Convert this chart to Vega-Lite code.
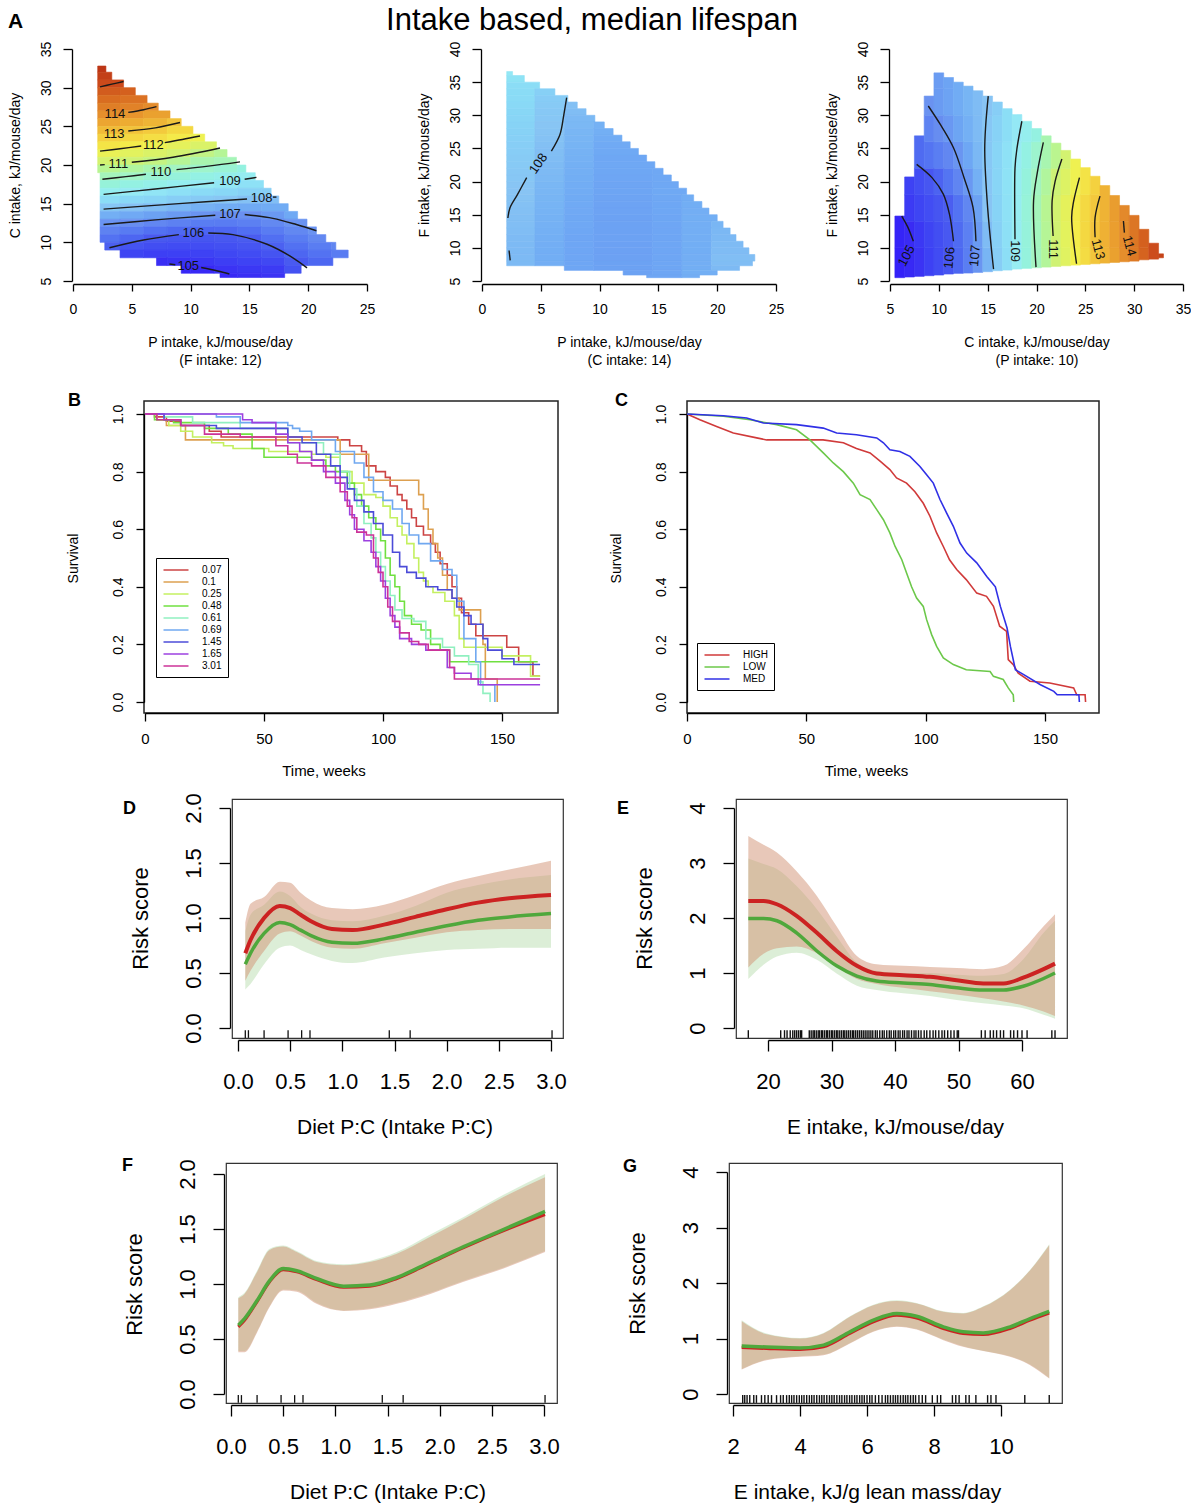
{
"$schema":"https://vega.github.io/schema/vega-lite/v6.json",
"background":"white",
"padding":{"top":4,"left":0,"right":0,"bottom":0},
"autosize":{"type":"pad"},
"spacing":0,
"bounds":"full",
"resolve":{"scale":{"stroke":"independent"},"legend":{"stroke":"independent"}},
"config":{"font":"Liberation Sans","view":{"stroke":null},"axis":{"grid":false,"labelFlush":false,"labelOverlap":false,"domainColor":"#000","tickColor":"#000","labelColor":"#000","titleColor":"#000","titleFontWeight":"normal","domainWidth":1.3,"tickWidth":1.3},"title":{"color":"#000"},"legend":{"labelColor":"#000"}},
"datasets":{
"a1":[
{"x":2.1,"x2":2.8,"y":32,"y2":32.8,"v":115.55},
{"x":2.1,"x2":3.3,"y":31,"y2":32,"v":115.31},
{"x":2.1,"x2":4.3,"y":30,"y2":31,"v":115.04},
{"x":2.1,"x2":4,"y":29,"y2":30,"v":114.77},{"x":4,"x2":5.3,"y":29,"y2":30,"v":114.7},
{"x":2.1,"x2":4,"y":28,"y2":29,"v":114.5},{"x":4,"x2":6.3,"y":28,"y2":29,"v":114.42},
{"x":2.1,"x2":4,"y":27,"y2":28,"v":114.23},{"x":4,"x2":6,"y":27,"y2":28,"v":114.16},{"x":6,"x2":7.25,"y":27,"y2":28,"v":114.0},
{"x":2.1,"x2":4,"y":26,"y2":27,"v":113.94},{"x":4,"x2":6,"y":26,"y2":27,"v":113.84},{"x":6,"x2":8.25,"y":26,"y2":27,"v":113.63},
{"x":2.1,"x2":4,"y":25,"y2":26,"v":113.55},{"x":4,"x2":6,"y":25,"y2":26,"v":113.43},{"x":6,"x2":8,"y":25,"y2":26,"v":113.26},{"x":8,"x2":9.2,"y":25,"y2":26,"v":113.0},
{"x":2.1,"x2":4,"y":24,"y2":25,"v":113.16},{"x":4,"x2":6,"y":24,"y2":25,"v":113.02},{"x":6,"x2":8,"y":24,"y2":25,"v":112.86},{"x":8,"x2":10.2,"y":24,"y2":25,"v":112.55},
{"x":2.1,"x2":4,"y":23,"y2":24,"v":112.72},{"x":4,"x2":6,"y":23,"y2":24,"v":112.56},{"x":6,"x2":8,"y":23,"y2":24,"v":112.4},{"x":8,"x2":10,"y":23,"y2":24,"v":112.13},{"x":10,"x2":11.2,"y":23,"y2":24,"v":111.86},
{"x":2.1,"x2":4,"y":22,"y2":23,"v":112.26},{"x":4,"x2":6,"y":22,"y2":23,"v":112.09},{"x":6,"x2":8,"y":22,"y2":23,"v":111.9},{"x":8,"x2":10,"y":22,"y2":23,"v":111.67},{"x":10,"x2":12.2,"y":22,"y2":23,"v":111.38},
{"x":2.1,"x2":4,"y":21,"y2":22,"v":111.77},{"x":4,"x2":6,"y":21,"y2":22,"v":111.59},{"x":6,"x2":8,"y":21,"y2":22,"v":111.4},{"x":8,"x2":10,"y":21,"y2":22,"v":111.2},{"x":10,"x2":12,"y":21,"y2":22,"v":110.86},{"x":12,"x2":13.1,"y":21,"y2":22,"v":110.63},
{"x":2.1,"x2":4,"y":20,"y2":21,"v":111.22},{"x":4,"x2":6,"y":20,"y2":21,"v":111.08},{"x":6,"x2":8,"y":20,"y2":21,"v":110.88},{"x":8,"x2":10,"y":20,"y2":21,"v":110.65},{"x":10,"x2":12,"y":20,"y2":21,"v":110.33},{"x":12,"x2":13.9,"y":20,"y2":21,"v":110.18},
{"x":2.1,"x2":4,"y":19,"y2":20,"v":110.68},{"x":4,"x2":6,"y":19,"y2":20,"v":110.52},{"x":6,"x2":8,"y":19,"y2":20,"v":110.29},{"x":8,"x2":10,"y":19,"y2":20,"v":110.04},{"x":10,"x2":12,"y":19,"y2":20,"v":109.88},{"x":12,"x2":14,"y":19,"y2":20,"v":109.73},{"x":14,"x2":14.7,"y":19,"y2":20,"v":109.5},
{"x":2.3,"x2":4,"y":18,"y2":19,"v":110.14},{"x":4,"x2":6,"y":18,"y2":19,"v":109.96},{"x":6,"x2":8,"y":18,"y2":19,"v":109.76},{"x":8,"x2":10,"y":18,"y2":19,"v":109.58},{"x":10,"x2":12,"y":18,"y2":19,"v":109.41},{"x":12,"x2":14,"y":18,"y2":19,"v":109.28},{"x":14,"x2":15.5,"y":18,"y2":19,"v":109.1},
{"x":2.3,"x2":4,"y":17,"y2":18,"v":109.62},{"x":4,"x2":6,"y":17,"y2":18,"v":109.45},{"x":6,"x2":8,"y":17,"y2":18,"v":109.29},{"x":8,"x2":10,"y":17,"y2":18,"v":109.13},{"x":10,"x2":12,"y":17,"y2":18,"v":108.98},{"x":12,"x2":14,"y":17,"y2":18,"v":108.85},{"x":14,"x2":16.2,"y":17,"y2":18,"v":108.71},
{"x":2.3,"x2":4,"y":16,"y2":17,"v":109.12},{"x":4,"x2":6,"y":16,"y2":17,"v":108.95},{"x":6,"x2":8,"y":16,"y2":17,"v":108.81},{"x":8,"x2":10,"y":16,"y2":17,"v":108.68},{"x":10,"x2":12,"y":16,"y2":17,"v":108.56},{"x":12,"x2":14,"y":16,"y2":17,"v":108.44},{"x":14,"x2":16,"y":16,"y2":17,"v":108.33},{"x":16,"x2":16.85,"y":16,"y2":17,"v":108.25},
{"x":2.3,"x2":4,"y":15,"y2":16,"v":108.6},{"x":4,"x2":6,"y":15,"y2":16,"v":108.47},{"x":6,"x2":8,"y":15,"y2":16,"v":108.4},{"x":8,"x2":10,"y":15,"y2":16,"v":108.23},{"x":10,"x2":12,"y":15,"y2":16,"v":108.13},{"x":12,"x2":14,"y":15,"y2":16,"v":108.04},{"x":14,"x2":16,"y":15,"y2":16,"v":107.94},{"x":16,"x2":17.5,"y":15,"y2":16,"v":107.88},
{"x":2.3,"x2":4,"y":14,"y2":15,"v":108.08},{"x":4,"x2":6,"y":14,"y2":15,"v":107.98},{"x":6,"x2":8,"y":14,"y2":15,"v":107.86},{"x":8,"x2":10,"y":14,"y2":15,"v":107.73},{"x":10,"x2":12,"y":14,"y2":15,"v":107.62},{"x":12,"x2":14,"y":14,"y2":15,"v":107.51},{"x":14,"x2":16,"y":14,"y2":15,"v":107.47},{"x":16,"x2":18.3,"y":14,"y2":15,"v":107.51},
{"x":2.3,"x2":4,"y":13,"y2":14,"v":107.57},{"x":4,"x2":6,"y":13,"y2":14,"v":107.46},{"x":6,"x2":8,"y":13,"y2":14,"v":107.32},{"x":8,"x2":10,"y":13,"y2":14,"v":107.17},{"x":10,"x2":12,"y":13,"y2":14,"v":107.07},{"x":12,"x2":14,"y":13,"y2":14,"v":106.98},{"x":14,"x2":16,"y":13,"y2":14,"v":106.99},{"x":16,"x2":18,"y":13,"y2":14,"v":107.15},{"x":18,"x2":19.1,"y":13,"y2":14,"v":107.45},
{"x":2.3,"x2":4,"y":12,"y2":13,"v":107.07},{"x":4,"x2":6,"y":12,"y2":13,"v":106.95},{"x":6,"x2":8,"y":12,"y2":13,"v":106.82},{"x":8,"x2":10,"y":12,"y2":13,"v":106.7},{"x":10,"x2":12,"y":12,"y2":13,"v":106.61},{"x":12,"x2":14,"y":12,"y2":13,"v":106.59},{"x":14,"x2":16,"y":12,"y2":13,"v":106.67},{"x":16,"x2":18,"y":12,"y2":13,"v":106.85},{"x":18,"x2":19.9,"y":12,"y2":13,"v":107.06},
{"x":2.3,"x2":4,"y":11,"y2":12,"v":106.72},{"x":4,"x2":6,"y":11,"y2":12,"v":106.57},{"x":6,"x2":8,"y":11,"y2":12,"v":106.38},{"x":8,"x2":10,"y":11,"y2":12,"v":106.23},{"x":10,"x2":12,"y":11,"y2":12,"v":106.15},{"x":12,"x2":14,"y":11,"y2":12,"v":106.19},{"x":14,"x2":16,"y":11,"y2":12,"v":106.35},{"x":16,"x2":18,"y":11,"y2":12,"v":106.6},{"x":18,"x2":20,"y":11,"y2":12,"v":106.83},{"x":20,"x2":20.7,"y":11,"y2":12,"v":107.05},
{"x":2.3,"x2":4,"y":10,"y2":11,"v":106.4},{"x":4,"x2":6,"y":10,"y2":11,"v":106.18},{"x":6,"x2":8,"y":10,"y2":11,"v":105.96},{"x":8,"x2":10,"y":10,"y2":11,"v":105.87},{"x":10,"x2":12,"y":10,"y2":11,"v":105.85},{"x":12,"x2":14,"y":10,"y2":11,"v":105.9},{"x":14,"x2":16,"y":10,"y2":11,"v":106.02},{"x":16,"x2":18,"y":10,"y2":11,"v":106.34},{"x":18,"x2":20,"y":10,"y2":11,"v":106.61},{"x":20,"x2":21.5,"y":10,"y2":11,"v":106.84},
{"x":2.7,"x2":4,"y":9,"y2":10,"v":106.07},{"x":4,"x2":6,"y":9,"y2":10,"v":105.8},{"x":6,"x2":8,"y":9,"y2":10,"v":105.65},{"x":8,"x2":10,"y":9,"y2":10,"v":105.61},{"x":10,"x2":12,"y":9,"y2":10,"v":105.63},{"x":12,"x2":14,"y":9,"y2":10,"v":105.7},{"x":14,"x2":16,"y":9,"y2":10,"v":105.82},{"x":16,"x2":18,"y":9,"y2":10,"v":106.09},{"x":18,"x2":20,"y":9,"y2":10,"v":106.39},{"x":20,"x2":22,"y":9,"y2":10,"v":106.62},{"x":22,"x2":22.35,"y":9,"y2":10,"v":106.8},
{"x":4,"x2":6,"y":8,"y2":9,"v":105.44},{"x":6,"x2":8,"y":8,"y2":9,"v":105.34},{"x":8,"x2":10,"y":8,"y2":9,"v":105.35},{"x":10,"x2":12,"y":8,"y2":9,"v":105.4},{"x":12,"x2":14,"y":8,"y2":9,"v":105.5},{"x":14,"x2":16,"y":8,"y2":9,"v":105.61},{"x":16,"x2":18,"y":8,"y2":9,"v":105.81},{"x":18,"x2":20,"y":8,"y2":9,"v":106.17},{"x":20,"x2":22,"y":8,"y2":9,"v":106.4},{"x":22,"x2":23.4,"y":8,"y2":9,"v":106.6},
{"x":7.1,"x2":8,"y":7,"y2":8,"v":105.03},{"x":8,"x2":10,"y":7,"y2":8,"v":105.09},{"x":10,"x2":12,"y":7,"y2":8,"v":105.18},{"x":12,"x2":14,"y":7,"y2":8,"v":105.31},{"x":14,"x2":16,"y":7,"y2":8,"v":105.41},{"x":16,"x2":18,"y":7,"y2":8,"v":105.53},{"x":18,"x2":20,"y":7,"y2":8,"v":105.95},{"x":20,"x2":22.1,"y":7,"y2":8,"v":106.19},
{"x":9.2,"x2":10,"y":6,"y2":7,"v":104.9},{"x":10,"x2":12,"y":6,"y2":7,"v":104.95},{"x":12,"x2":14,"y":6,"y2":7,"v":105.11},{"x":14,"x2":16,"y":6,"y2":7,"v":105.2},{"x":16,"x2":18,"y":6,"y2":7,"v":105.26},{"x":18,"x2":19.4,"y":6,"y2":7,"v":105.75},
{"x":12.5,"x2":14,"y":5.45,"y2":6,"v":104.95},{"x":14,"x2":16,"y":5.45,"y2":6,"v":105.04},{"x":16,"x2":18,"y":5.45,"y2":6,"v":105.12}
],
"a1c":[
{"k":"115","x":2.3,"y":30.1},{"k":"115","x":3.3,"y":30.45},{"k":"115","x":4.3,"y":30.8},
{"k":"114","x":4.7,"y":26.8},{"k":"114","x":6,"y":27.15},{"k":"114","x":7.1,"y":27.55},
{"k":"113","x":4.7,"y":24.4},{"k":"113","x":7,"y":24.8},{"k":"113","x":9.1,"y":25.5},
{"k":"112a","x":2.3,"y":21.8},{"k":"112a","x":4,"y":22.1},{"k":"112a","x":5.8,"y":22.45},
{"k":"112b","x":7.8,"y":22.9},{"k":"112b","x":9.3,"y":23.3},{"k":"112b","x":10.8,"y":23.75},
{"k":"111a","x":2.3,"y":20.0},{"k":"111a","x":2.7,"y":20.05},
{"k":"111b","x":5.0,"y":20.35},{"k":"111b","x":8.5,"y":21.0},{"k":"111b","x":12.5,"y":22.2},
{"k":"110a","x":2.5,"y":18.15},{"k":"110a","x":4.5,"y":18.5},{"k":"110a","x":6.2,"y":18.8},
{"k":"110b","x":8.8,"y":19.4},{"k":"110b","x":11.5,"y":19.85},{"k":"110b","x":14.2,"y":20.4},
{"k":"109a","x":2.6,"y":16.2},{"k":"109a","x":7,"y":16.9},{"k":"109a","x":12,"y":17.7},
{"k":"109b","x":14.6,"y":18.15},{"k":"109b","x":15.6,"y":18.4},
{"k":"108a","x":2.6,"y":14.3},{"k":"108a","x":9,"y":15},{"k":"108a","x":14.8,"y":15.6},
{"k":"108b","x":17.0,"y":15.85},{"k":"108b","x":17.3,"y":15.85},
{"k":"107a","x":2.6,"y":12.3},{"k":"107a","x":7,"y":12.9},{"k":"107a","x":12.1,"y":13.5},
{"k":"107b","x":14.6,"y":13.6},{"k":"107b","x":17,"y":13.1},{"k":"107b","x":19,"y":12.3},{"k":"107b","x":20.7,"y":11.5},
{"k":"106a","x":3.1,"y":9.3},{"k":"106a","x":6,"y":10.3},{"k":"106a","x":9.0,"y":11.0},
{"k":"106b","x":11.5,"y":11.2},{"k":"106b","x":13.6,"y":11.0},{"k":"106b","x":16.5,"y":9.75},{"k":"106b","x":18.7,"y":8.0},{"k":"106b","x":19.9,"y":6.7},
{"k":"105a","x":8.2,"y":7.2},{"k":"105a","x":8.7,"y":7.1},
{"k":"105b","x":10.9,"y":6.75},{"k":"105b","x":12.3,"y":6.3},{"k":"105b","x":13.3,"y":5.9}
],
"a1l":[
{"t":"114","x":3.57,"y":26.56},{"t":"113","x":3.5,"y":24.05},{"t":"112","x":6.83,"y":22.6},{"t":"111","x":3.85,"y":20.17},{"t":"110","x":7.48,"y":19.13},
{"t":"109","x":13.35,"y":17.93},{"t":"108","x":16.04,"y":15.78},{"t":"107","x":13.35,"y":13.62},{"t":"106","x":10.23,"y":11.17},{"t":"105","x":9.8,"y":6.94}
],
"a2":[
{"x":2.1,"x2":2.6,"y":36,"y2":36.6,"v":108.89},
{"x":2.1,"x2":3.6,"y":35,"y2":36,"v":108.76},
{"x":2.1,"x2":4.9,"y":34,"y2":35,"v":108.6},
{"x":2.1,"x2":4.5,"y":33,"y2":34,"v":108.58},{"x":4.5,"x2":6.2,"y":33,"y2":34,"v":108.27},
{"x":2.1,"x2":4.5,"y":32,"y2":33,"v":108.54},{"x":4.5,"x2":7.3,"y":32,"y2":33,"v":108.18},
{"x":2.1,"x2":4.5,"y":31,"y2":32,"v":108.49},{"x":4.5,"x2":7,"y":31,"y2":32,"v":108.13},{"x":7,"x2":8.1,"y":31,"y2":32,"v":107.92},
{"x":2.1,"x2":4.5,"y":30,"y2":31,"v":108.45},{"x":4.5,"x2":7,"y":30,"y2":31,"v":108.1},{"x":7,"x2":8.85,"y":30,"y2":31,"v":107.85},
{"x":2.1,"x2":4.5,"y":29,"y2":30,"v":108.4},{"x":4.5,"x2":7,"y":29,"y2":30,"v":108.06},{"x":7,"x2":9.6,"y":29,"y2":30,"v":107.78},
{"x":2.1,"x2":4.5,"y":28,"y2":29,"v":108.36},{"x":4.5,"x2":7,"y":28,"y2":29,"v":108.02},{"x":7,"x2":9.5,"y":28,"y2":29,"v":107.75},{"x":9.5,"x2":10.4,"y":28,"y2":29,"v":107.62},
{"x":2.1,"x2":4.5,"y":27,"y2":28,"v":108.32},{"x":4.5,"x2":7,"y":27,"y2":28,"v":107.99},{"x":7,"x2":9.5,"y":27,"y2":28,"v":107.72},{"x":9.5,"x2":11.15,"y":27,"y2":28,"v":107.57},
{"x":2.1,"x2":4.5,"y":26,"y2":27,"v":108.28},{"x":4.5,"x2":7,"y":26,"y2":27,"v":107.95},{"x":7,"x2":9.5,"y":26,"y2":27,"v":107.69},{"x":9.5,"x2":11.9,"y":26,"y2":27,"v":107.52},
{"x":2.1,"x2":4.5,"y":25,"y2":26,"v":108.24},{"x":4.5,"x2":7,"y":25,"y2":26,"v":107.92},{"x":7,"x2":9.5,"y":25,"y2":26,"v":107.67},{"x":9.5,"x2":12.6,"y":25,"y2":26,"v":107.48},
{"x":2.1,"x2":4.5,"y":24,"y2":25,"v":108.2},{"x":4.5,"x2":7,"y":24,"y2":25,"v":107.88},{"x":7,"x2":9.5,"y":24,"y2":25,"v":107.64},{"x":9.5,"x2":13.3,"y":24,"y2":25,"v":107.45},
{"x":2.1,"x2":4.5,"y":23,"y2":24,"v":108.17},{"x":4.5,"x2":7,"y":23,"y2":24,"v":107.85},{"x":7,"x2":9.5,"y":23,"y2":24,"v":107.61},{"x":9.5,"x2":14,"y":23,"y2":24,"v":107.42},
{"x":2.1,"x2":4.5,"y":22,"y2":23,"v":108.13},{"x":4.5,"x2":7,"y":22,"y2":23,"v":107.82},{"x":7,"x2":9.5,"y":22,"y2":23,"v":107.59},{"x":9.5,"x2":14.7,"y":22,"y2":23,"v":107.43},
{"x":2.1,"x2":4.5,"y":21,"y2":22,"v":108.1},{"x":4.5,"x2":7,"y":21,"y2":22,"v":107.8},{"x":7,"x2":9.5,"y":21,"y2":22,"v":107.57},{"x":9.5,"x2":14.5,"y":21,"y2":22,"v":107.41},{"x":14.5,"x2":15.4,"y":21,"y2":22,"v":107.44},
{"x":2.1,"x2":4.5,"y":20,"y2":21,"v":108.06},{"x":4.5,"x2":7,"y":20,"y2":21,"v":107.77},{"x":7,"x2":9.5,"y":20,"y2":21,"v":107.55},{"x":9.5,"x2":14.5,"y":20,"y2":21,"v":107.4},{"x":14.5,"x2":16.1,"y":20,"y2":21,"v":107.44},
{"x":2.1,"x2":4.5,"y":19,"y2":20,"v":108.03},{"x":4.5,"x2":7,"y":19,"y2":20,"v":107.74},{"x":7,"x2":9.5,"y":19,"y2":20,"v":107.53},{"x":9.5,"x2":14.5,"y":19,"y2":20,"v":107.38},{"x":14.5,"x2":16.7,"y":19,"y2":20,"v":107.44},
{"x":2.1,"x2":4.5,"y":18,"y2":19,"v":108.0},{"x":4.5,"x2":7,"y":18,"y2":19,"v":107.72},{"x":7,"x2":9.5,"y":18,"y2":19,"v":107.51},{"x":9.5,"x2":14.5,"y":18,"y2":19,"v":107.37},{"x":14.5,"x2":17.4,"y":18,"y2":19,"v":107.45},
{"x":2.1,"x2":4.5,"y":17,"y2":18,"v":107.97},{"x":4.5,"x2":7,"y":17,"y2":18,"v":107.69},{"x":7,"x2":9.5,"y":17,"y2":18,"v":107.49},{"x":9.5,"x2":14.5,"y":17,"y2":18,"v":107.36},{"x":14.5,"x2":17,"y":17,"y2":18,"v":107.43},{"x":17,"x2":18,"y":17,"y2":18,"v":107.53},
{"x":2.1,"x2":4.5,"y":16,"y2":17,"v":107.94},{"x":4.5,"x2":7,"y":16,"y2":17,"v":107.67},{"x":7,"x2":9.5,"y":16,"y2":17,"v":107.47},{"x":9.5,"x2":14.5,"y":16,"y2":17,"v":107.35},{"x":14.5,"x2":17,"y":16,"y2":17,"v":107.42},{"x":17,"x2":18.7,"y":16,"y2":17,"v":107.55},
{"x":2.1,"x2":4.5,"y":15,"y2":16,"v":107.92},{"x":4.5,"x2":7,"y":15,"y2":16,"v":107.65},{"x":7,"x2":9.5,"y":15,"y2":16,"v":107.46},{"x":9.5,"x2":14.5,"y":15,"y2":16,"v":107.34},{"x":14.5,"x2":17,"y":15,"y2":16,"v":107.41},{"x":17,"x2":19.3,"y":15,"y2":16,"v":107.56},
{"x":2.1,"x2":4.5,"y":14,"y2":15,"v":107.89},{"x":4.5,"x2":7,"y":14,"y2":15,"v":107.63},{"x":7,"x2":9.5,"y":14,"y2":15,"v":107.44},{"x":9.5,"x2":14.5,"y":14,"y2":15,"v":107.33},{"x":14.5,"x2":17,"y":14,"y2":15,"v":107.4},{"x":17,"x2":20,"y":14,"y2":15,"v":107.58},
{"x":2.1,"x2":4.5,"y":13,"y2":14,"v":107.87},{"x":4.5,"x2":7,"y":13,"y2":14,"v":107.61},{"x":7,"x2":9.5,"y":13,"y2":14,"v":107.43},{"x":9.5,"x2":14.5,"y":13,"y2":14,"v":107.33},{"x":14.5,"x2":17,"y":13,"y2":14,"v":107.4},{"x":17,"x2":19.5,"y":13,"y2":14,"v":107.56},{"x":19.5,"x2":20.5,"y":13,"y2":14,"v":107.72},
{"x":2.1,"x2":4.5,"y":12,"y2":13,"v":107.85},{"x":4.5,"x2":7,"y":12,"y2":13,"v":107.59},{"x":7,"x2":9.5,"y":12,"y2":13,"v":107.42},{"x":9.5,"x2":14.5,"y":12,"y2":13,"v":107.32},{"x":14.5,"x2":17,"y":12,"y2":13,"v":107.4},{"x":17,"x2":19.5,"y":12,"y2":13,"v":107.56},{"x":19.5,"x2":21.1,"y":12,"y2":13,"v":107.75},
{"x":2.1,"x2":4.5,"y":11,"y2":12,"v":107.82},{"x":4.5,"x2":7,"y":11,"y2":12,"v":107.58},{"x":7,"x2":9.5,"y":11,"y2":12,"v":107.4},{"x":9.5,"x2":14.5,"y":11,"y2":12,"v":107.32},{"x":14.5,"x2":17,"y":11,"y2":12,"v":107.39},{"x":17,"x2":19.5,"y":11,"y2":12,"v":107.56},{"x":19.5,"x2":21.6,"y":11,"y2":12,"v":107.78},
{"x":2.1,"x2":4.5,"y":10,"y2":11,"v":107.8},{"x":4.5,"x2":7,"y":10,"y2":11,"v":107.56},{"x":7,"x2":9.5,"y":10,"y2":11,"v":107.4},{"x":9.5,"x2":14.5,"y":10,"y2":11,"v":107.31},{"x":14.5,"x2":17,"y":10,"y2":11,"v":107.39},{"x":17,"x2":19.5,"y":10,"y2":11,"v":107.55},{"x":19.5,"x2":22.2,"y":10,"y2":11,"v":107.81},
{"x":2.1,"x2":4.5,"y":9,"y2":10,"v":107.79},{"x":4.5,"x2":7,"y":9,"y2":10,"v":107.55},{"x":7,"x2":9.5,"y":9,"y2":10,"v":107.39},{"x":9.5,"x2":14.5,"y":9,"y2":10,"v":107.31},{"x":14.5,"x2":17,"y":9,"y2":10,"v":107.39},{"x":17,"x2":19.5,"y":9,"y2":10,"v":107.55},{"x":19.5,"x2":22.7,"y":9,"y2":10,"v":107.84},
{"x":2.1,"x2":4.5,"y":8,"y2":9,"v":107.79},{"x":4.5,"x2":7,"y":8,"y2":9,"v":107.55},{"x":7,"x2":9.5,"y":8,"y2":9,"v":107.39},{"x":9.5,"x2":14.5,"y":8,"y2":9,"v":107.31},{"x":14.5,"x2":17,"y":8,"y2":9,"v":107.39},{"x":17,"x2":19.5,"y":8,"y2":9,"v":107.56},{"x":19.5,"x2":23.2,"y":8,"y2":9,"v":107.87},
{"x":2.1,"x2":4.5,"y":7.3,"y2":8,"v":107.8},{"x":4.5,"x2":7,"y":7.3,"y2":8,"v":107.56},{"x":7,"x2":9.5,"y":7.3,"y2":8,"v":107.4},{"x":9.5,"x2":14.5,"y":7.3,"y2":8,"v":107.32},{"x":14.5,"x2":17,"y":7.3,"y2":8,"v":107.4},{"x":17,"x2":19.5,"y":7.3,"y2":8,"v":107.56},{"x":19.5,"x2":23,"y":7.3,"y2":8,"v":107.86},
{"x":7,"x2":9.5,"y":6.6,"y2":7.3,"v":107.4},{"x":9.5,"x2":14.5,"y":6.6,"y2":7.3,"v":107.32},{"x":14.5,"x2":17,"y":6.6,"y2":7.3,"v":107.4},{"x":17,"x2":19.5,"y":6.6,"y2":7.3,"v":107.56},{"x":19.5,"x2":21.9,"y":6.6,"y2":7.3,"v":107.8},
{"x":12,"x2":14.5,"y":5.9,"y2":6.6,"v":107.32},{"x":14.5,"x2":17,"y":5.9,"y2":6.6,"v":107.4},{"x":17,"x2":20,"y":5.9,"y2":6.6,"v":107.57},
{"x":14,"x2":17,"y":5.5,"y2":5.9,"v":107.39},{"x":17,"x2":18.5,"y":5.5,"y2":5.9,"v":107.53}
],
"a2c":[
{"k":"a","x":7.2,"y":32.65},{"k":"a","x":6.95,"y":30},{"k":"a","x":6.63,"y":27.1},{"k":"a","x":5.9,"y":24.6},
{"k":"b","x":3.8,"y":20.6},{"k":"b","x":3.0,"y":18.0},{"k":"b","x":2.38,"y":16.05},{"k":"b","x":2.2,"y":14.5},
{"k":"c","x":2.3,"y":9.6},{"k":"c","x":2.4,"y":8.1}
],
"a2l":[{"t":"108","x":4.79,"y":22.7}],
"a3":[
{"x":5.5,"x2":6.5,"y":5.5,"y2":10,"v":104.81},{"x":5.5,"x2":6.5,"y":10,"y2":14.8,"v":104.86},
{"x":6.5,"x2":7.5,"y":5.6,"y2":10,"v":104.94},{"x":6.5,"x2":7.5,"y":10,"y2":14,"v":104.99},{"x":6.5,"x2":7.5,"y":14,"y2":18,"v":105.26},{"x":6.5,"x2":7.5,"y":18,"y2":20.7,"v":105.4},
{"x":7.5,"x2":8.5,"y":5.7,"y2":10,"v":105.12},{"x":7.5,"x2":8.5,"y":10,"y2":14,"v":105.21},{"x":7.5,"x2":8.5,"y":14,"y2":18,"v":105.45},{"x":7.5,"x2":8.5,"y":18,"y2":22,"v":105.63},{"x":7.5,"x2":8.5,"y":22,"y2":26.9,"v":106.27},
{"x":8.5,"x2":9.5,"y":5.8,"y2":10,"v":105.37},{"x":8.5,"x2":9.5,"y":10,"y2":14,"v":105.44},{"x":8.5,"x2":9.5,"y":14,"y2":18,"v":105.64},{"x":8.5,"x2":9.5,"y":18,"y2":22,"v":105.86},{"x":8.5,"x2":9.5,"y":22,"y2":26,"v":106.44},{"x":8.5,"x2":9.5,"y":26,"y2":30,"v":106.73},{"x":8.5,"x2":9.5,"y":30,"y2":32.9,"v":107.03},
{"x":9.5,"x2":10.5,"y":5.9,"y2":10,"v":105.62},{"x":9.5,"x2":10.5,"y":10,"y2":14,"v":105.67},{"x":9.5,"x2":10.5,"y":14,"y2":18,"v":105.83},{"x":9.5,"x2":10.5,"y":18,"y2":22,"v":106.13},{"x":9.5,"x2":10.5,"y":22,"y2":26,"v":106.63},{"x":9.5,"x2":10.5,"y":26,"y2":30,"v":106.93},{"x":9.5,"x2":10.5,"y":30,"y2":34,"v":107.19},{"x":9.5,"x2":10.5,"y":34,"y2":36.4,"v":107.21},
{"x":10.5,"x2":11.5,"y":6.05,"y2":10,"v":105.86},{"x":10.5,"x2":11.5,"y":10,"y2":14,"v":105.9},{"x":10.5,"x2":11.5,"y":14,"y2":18,"v":106.04},{"x":10.5,"x2":11.5,"y":18,"y2":22,"v":106.45},{"x":10.5,"x2":11.5,"y":22,"y2":26,"v":106.82},{"x":10.5,"x2":11.5,"y":26,"y2":30,"v":107.14},{"x":10.5,"x2":11.5,"y":30,"y2":34,"v":107.35},{"x":10.5,"x2":11.5,"y":34,"y2":35.7,"v":107.36},
{"x":11.5,"x2":12.5,"y":6.15,"y2":10,"v":106.2},{"x":11.5,"x2":12.5,"y":10,"y2":14,"v":106.26},{"x":11.5,"x2":12.5,"y":14,"y2":18,"v":106.42},{"x":11.5,"x2":12.5,"y":18,"y2":22,"v":106.78},{"x":11.5,"x2":12.5,"y":22,"y2":26,"v":107.08},{"x":11.5,"x2":12.5,"y":26,"y2":30,"v":107.37},{"x":11.5,"x2":12.5,"y":30,"y2":35,"v":107.52},
{"x":12.5,"x2":13.5,"y":6.2,"y2":10,"v":106.63},{"x":12.5,"x2":13.5,"y":10,"y2":14,"v":106.68},{"x":12.5,"x2":13.5,"y":14,"y2":18,"v":106.81},{"x":12.5,"x2":13.5,"y":18,"y2":22,"v":107.14},{"x":12.5,"x2":13.5,"y":22,"y2":26,"v":107.42},{"x":12.5,"x2":13.5,"y":26,"y2":30,"v":107.59},{"x":12.5,"x2":13.5,"y":30,"y2":34.4,"v":107.68},
{"x":13.5,"x2":14.5,"y":6.3,"y2":10,"v":107.09},{"x":13.5,"x2":14.5,"y":10,"y2":14,"v":107.17},{"x":13.5,"x2":14.5,"y":14,"y2":18,"v":107.33},{"x":13.5,"x2":14.5,"y":18,"y2":22,"v":107.6},{"x":13.5,"x2":14.5,"y":22,"y2":26,"v":107.76},{"x":13.5,"x2":14.5,"y":26,"y2":30,"v":107.82},{"x":13.5,"x2":14.5,"y":30,"y2":33.7,"v":107.84},
{"x":14.5,"x2":15.5,"y":6.4,"y2":10,"v":107.7},{"x":14.5,"x2":15.5,"y":10,"y2":14,"v":107.83},{"x":14.5,"x2":15.5,"y":14,"y2":18,"v":108.0},{"x":14.5,"x2":15.5,"y":18,"y2":22,"v":108.05},{"x":14.5,"x2":15.5,"y":22,"y2":26,"v":108.09},{"x":14.5,"x2":15.5,"y":26,"y2":30,"v":108.06},{"x":14.5,"x2":15.5,"y":30,"y2":32.9,"v":108.0},
{"x":15.5,"x2":16.5,"y":6.55,"y2":10,"v":108.21},{"x":15.5,"x2":16.5,"y":10,"y2":14,"v":108.29},{"x":15.5,"x2":16.5,"y":14,"y2":18,"v":108.36},{"x":15.5,"x2":16.5,"y":18,"y2":22,"v":108.39},{"x":15.5,"x2":16.5,"y":22,"y2":26,"v":108.4},{"x":15.5,"x2":16.5,"y":26,"y2":30,"v":108.34},{"x":15.5,"x2":16.5,"y":30,"y2":32,"v":108.23},
{"x":16.5,"x2":17.5,"y":6.65,"y2":10,"v":108.63},{"x":16.5,"x2":17.5,"y":10,"y2":14,"v":108.68},{"x":16.5,"x2":17.5,"y":14,"y2":18,"v":108.71},{"x":16.5,"x2":17.5,"y":18,"y2":22,"v":108.73},{"x":16.5,"x2":17.5,"y":22,"y2":26,"v":108.71},{"x":16.5,"x2":17.5,"y":26,"y2":31,"v":108.62},
{"x":17.5,"x2":18.5,"y":6.8,"y2":10,"v":109.05},{"x":17.5,"x2":18.5,"y":10,"y2":14,"v":109.1},{"x":17.5,"x2":18.5,"y":14,"y2":18,"v":109.1},{"x":17.5,"x2":18.5,"y":18,"y2":22,"v":109.09},{"x":17.5,"x2":18.5,"y":22,"y2":26,"v":109.03},{"x":17.5,"x2":18.5,"y":26,"y2":30.1,"v":108.9},
{"x":18.5,"x2":19.5,"y":6.9,"y2":10,"v":109.55},{"x":18.5,"x2":19.5,"y":10,"y2":14,"v":109.59},{"x":18.5,"x2":19.5,"y":14,"y2":18,"v":109.63},{"x":18.5,"x2":19.5,"y":18,"y2":22,"v":109.56},{"x":18.5,"x2":19.5,"y":22,"y2":26,"v":109.43},{"x":18.5,"x2":19.5,"y":26,"y2":29.1,"v":109.18},
{"x":19.5,"x2":20.5,"y":7.0,"y2":10,"v":110.05},{"x":19.5,"x2":20.5,"y":10,"y2":14,"v":110.09},{"x":19.5,"x2":20.5,"y":14,"y2":18,"v":110.15},{"x":19.5,"x2":20.5,"y":18,"y2":22,"v":110.02},{"x":19.5,"x2":20.5,"y":22,"y2":26,"v":109.83},{"x":19.5,"x2":20.5,"y":26,"y2":28.0,"v":109.46},
{"x":20.5,"x2":21.5,"y":7.1,"y2":10,"v":110.58},{"x":20.5,"x2":21.5,"y":10,"y2":14,"v":110.63},{"x":20.5,"x2":21.5,"y":14,"y2":18,"v":110.68},{"x":20.5,"x2":21.5,"y":18,"y2":22,"v":110.54},{"x":20.5,"x2":21.5,"y":22,"y2":26.9,"v":110.3},
{"x":21.5,"x2":22.5,"y":7.2,"y2":10,"v":111.09},{"x":21.5,"x2":22.5,"y":10,"y2":14,"v":111.14},{"x":21.5,"x2":22.5,"y":14,"y2":18,"v":111.18},{"x":21.5,"x2":22.5,"y":18,"y2":22,"v":111.04},{"x":21.5,"x2":22.5,"y":22,"y2":25.8,"v":110.72},
{"x":22.5,"x2":23.5,"y":7.3,"y2":10,"v":111.53},{"x":22.5,"x2":23.5,"y":10,"y2":14,"v":111.62},{"x":22.5,"x2":23.5,"y":14,"y2":18,"v":111.66},{"x":22.5,"x2":23.5,"y":18,"y2":22,"v":111.46},{"x":22.5,"x2":23.5,"y":22,"y2":24.7,"v":111.2},
{"x":23.5,"x2":24.5,"y":7.4,"y2":10,"v":111.98},{"x":23.5,"x2":24.5,"y":10,"y2":14,"v":112.1},{"x":23.5,"x2":24.5,"y":14,"y2":18,"v":112.11},{"x":23.5,"x2":24.5,"y":18,"y2":23.4,"v":111.9},
{"x":24.5,"x2":25.5,"y":7.5,"y2":10,"v":112.46},{"x":24.5,"x2":25.5,"y":10,"y2":14,"v":112.55},{"x":24.5,"x2":25.5,"y":14,"y2":18,"v":112.51},{"x":24.5,"x2":25.5,"y":18,"y2":22.1,"v":112.29},
{"x":25.5,"x2":26.5,"y":7.6,"y2":10,"v":112.95},{"x":25.5,"x2":26.5,"y":10,"y2":14,"v":113.0},{"x":25.5,"x2":26.5,"y":14,"y2":18,"v":112.91},{"x":25.5,"x2":26.5,"y":18,"y2":20.8,"v":112.71},
{"x":26.5,"x2":27.5,"y":7.7,"y2":10,"v":113.3},{"x":26.5,"x2":27.5,"y":10,"y2":14,"v":113.33},{"x":26.5,"x2":27.5,"y":14,"y2":19.4,"v":113.3},
{"x":27.5,"x2":28.5,"y":7.8,"y2":10,"v":113.63},{"x":27.5,"x2":28.5,"y":10,"y2":14,"v":113.67},{"x":27.5,"x2":28.5,"y":14,"y2":17.9,"v":113.69},
{"x":28.5,"x2":29.5,"y":7.9,"y2":10,"v":113.97},{"x":28.5,"x2":29.5,"y":10,"y2":14,"v":114.0},{"x":28.5,"x2":29.5,"y":14,"y2":16.4,"v":114.05},
{"x":29.5,"x2":30.5,"y":8.0,"y2":10,"v":114.31},{"x":29.5,"x2":30.5,"y":10,"y2":14.9,"v":114.36},
{"x":30.5,"x2":31.5,"y":8.2,"y2":10,"v":114.66},{"x":30.5,"x2":31.5,"y":10,"y2":12.8,"v":114.71},
{"x":31.5,"x2":32.5,"y":8.3,"y2":10.7,"v":115.0},
{"x":32.5,"x2":33,"y":8.5,"y2":9.1,"v":115.2}
],
"a3c":[
{"k":"105","x":6.2,"y":14.8},{"k":"105","x":6.8,"y":13.2},{"k":"105","x":7.39,"y":11.0},
{"k":"106","x":7.73,"y":22.6},{"k":"106","x":9.3,"y":20.6},{"k":"106","x":10.46,"y":18.1},{"k":"106","x":11.1,"y":15},{"k":"106","x":11.5,"y":11.0},
{"k":"107","x":8.92,"y":31.4},{"k":"107","x":10.2,"y":28.5},{"k":"107","x":11.5,"y":25.1},{"k":"107","x":12.6,"y":20.5},{"k":"107","x":13.5,"y":16.1},{"k":"107","x":13.8,"y":11.0},
{"k":"108","x":15.06,"y":32.9},{"k":"108","x":14.8,"y":28.5},{"k":"108","x":14.7,"y":24.6},{"k":"108","x":15.0,"y":16},{"k":"108","x":15.6,"y":6.8},
{"k":"109","x":18.5,"y":29.1},{"k":"109","x":18.0,"y":25},{"k":"109","x":17.8,"y":22.1},{"k":"109","x":17.8,"y":11.3},
{"k":"110","x":20.7,"y":25.9},{"k":"110","x":20.1,"y":21.5},{"k":"110","x":19.7,"y":17.1},{"k":"110","x":19.95,"y":7.1},
{"k":"111","x":22.6,"y":23.4},{"k":"111","x":21.9,"y":20},{"k":"111","x":21.6,"y":17.1},{"k":"111","x":21.7,"y":11.8},
{"k":"112","x":24.4,"y":20.6},{"k":"112","x":23.8,"y":17},{"k":"112","x":23.6,"y":14.6},{"k":"112","x":24.1,"y":7.6},
{"k":"113","x":26.5,"y":17.8},{"k":"113","x":26.0,"y":14.6},{"k":"113","x":26.0,"y":11.6},
{"k":"114","x":28.9,"y":14.05},{"k":"114","x":29.0,"y":12.3}
],
"a3l":[
{"t":"105","x":6.7,"y":8.8},{"t":"106","x":11.1,"y":8.5},{"t":"107","x":13.7,"y":8.8},{"t":"109","x":17.8,"y":9.5},
{"t":"111","x":21.65,"y":9.8},{"t":"113","x":26.3,"y":9.8},{"t":"114","x":29.5,"y":10.3}
],
"bs":[
{"g":"0.07","t":0,"s":1},{"g":"0.07","t":4,"s":0.99},{"g":"0.07","t":9,"s":0.975},{"g":"0.07","t":15,"s":0.96},{"g":"0.07","t":27,"s":0.94},{"g":"0.07","t":32,"s":0.92},{"g":"0.07","t":81,"s":0.91},{"g":"0.07","t":86,"s":0.89},{"g":"0.07","t":91,"s":0.87},{"g":"0.07","t":93,"s":0.82},{"g":"0.07","t":97,"s":0.8},{"g":"0.07","t":101,"s":0.78},{"g":"0.07","t":103,"s":0.75},{"g":"0.07","t":106,"s":0.72},{"g":"0.07","t":108,"s":0.7},{"g":"0.07","t":110,"s":0.67},{"g":"0.07","t":112,"s":0.64},{"g":"0.07","t":114,"s":0.61},{"g":"0.07","t":117,"s":0.58},{"g":"0.07","t":120,"s":0.55},{"g":"0.07","t":122,"s":0.52},{"g":"0.07","t":124,"s":0.48},{"g":"0.07","t":127,"s":0.44},{"g":"0.07","t":129,"s":0.4},{"g":"0.07","t":131,"s":0.36},{"g":"0.07","t":133,"s":0.31},{"g":"0.07","t":136,"s":0.27},{"g":"0.07","t":139,"s":0.23},{"g":"0.07","t":152,"s":0.19},{"g":"0.07","t":157,"s":0.14},{"g":"0.07","t":163,"s":0.09},{"g":"0.07","t":166,"s":0.09},
{"g":"0.1","t":0,"s":1},{"g":"0.1","t":5,"s":0.98},{"g":"0.1","t":9,"s":0.96},{"g":"0.1","t":17,"s":0.91},{"g":"0.1","t":82,"s":0.86},{"g":"0.1","t":94,"s":0.77},{"g":"0.1","t":115,"s":0.72},{"g":"0.1","t":117,"s":0.67},{"g":"0.1","t":119,"s":0.6},{"g":"0.1","t":121,"s":0.55},{"g":"0.1","t":123,"s":0.5},{"g":"0.1","t":125,"s":0.44},{"g":"0.1","t":127,"s":0.39},{"g":"0.1","t":129,"s":0.36},{"g":"0.1","t":132,"s":0.32},{"g":"0.1","t":141,"s":0.27},{"g":"0.1","t":142,"s":0.2},{"g":"0.1","t":143,"s":0.08},{"g":"0.1","t":148,"s":0.0},
{"g":"0.25","t":0,"s":1},{"g":"0.25","t":5,"s":0.98},{"g":"0.25","t":10,"s":0.96},{"g":"0.25","t":15,"s":0.94},{"g":"0.25","t":20,"s":0.92},{"g":"0.25","t":28,"s":0.9},{"g":"0.25","t":33,"s":0.89},{"g":"0.25","t":37,"s":0.88},{"g":"0.25","t":52,"s":0.87},{"g":"0.25","t":70,"s":0.86},{"g":"0.25","t":76,"s":0.85},{"g":"0.25","t":82,"s":0.8},{"g":"0.25","t":87,"s":0.76},{"g":"0.25","t":92,"s":0.72},{"g":"0.25","t":97,"s":0.71},{"g":"0.25","t":100,"s":0.68},{"g":"0.25","t":103,"s":0.64},{"g":"0.25","t":106,"s":0.61},{"g":"0.25","t":108,"s":0.58},{"g":"0.25","t":110,"s":0.55},{"g":"0.25","t":113,"s":0.5},{"g":"0.25","t":115,"s":0.45},{"g":"0.25","t":117,"s":0.42},{"g":"0.25","t":119,"s":0.4},{"g":"0.25","t":121,"s":0.38},{"g":"0.25","t":126,"s":0.35},{"g":"0.25","t":130,"s":0.3},{"g":"0.25","t":132,"s":0.22},{"g":"0.25","t":134,"s":0.19},{"g":"0.25","t":150,"s":0.16},{"g":"0.25","t":162,"s":0.09},{"g":"0.25","t":166,"s":0.09},
{"g":"0.48","t":0,"s":1},{"g":"0.48","t":4,"s":0.98},{"g":"0.48","t":12,"s":0.97},{"g":"0.48","t":25,"s":0.95},{"g":"0.48","t":35,"s":0.93},{"g":"0.48","t":45,"s":0.88},{"g":"0.48","t":50,"s":0.85},{"g":"0.48","t":70,"s":0.84},{"g":"0.48","t":76,"s":0.82},{"g":"0.48","t":80,"s":0.8},{"g":"0.48","t":85,"s":0.76},{"g":"0.48","t":88,"s":0.72},{"g":"0.48","t":91,"s":0.68},{"g":"0.48","t":94,"s":0.64},{"g":"0.48","t":97,"s":0.6},{"g":"0.48","t":99,"s":0.56},{"g":"0.48","t":101,"s":0.5},{"g":"0.48","t":103,"s":0.44},{"g":"0.48","t":105,"s":0.4},{"g":"0.48","t":107,"s":0.35},{"g":"0.48","t":109,"s":0.3},{"g":"0.48","t":112,"s":0.27},{"g":"0.48","t":116,"s":0.25},{"g":"0.48","t":120,"s":0.2},{"g":"0.48","t":124,"s":0.18},{"g":"0.48","t":128,"s":0.14},{"g":"0.48","t":165,"s":0.14},
{"g":"0.61","t":0,"s":1},{"g":"0.61","t":8,"s":0.99},{"g":"0.61","t":20,"s":0.97},{"g":"0.61","t":40,"s":0.95},{"g":"0.61","t":60,"s":0.9},{"g":"0.61","t":75,"s":0.86},{"g":"0.61","t":82,"s":0.8},{"g":"0.61","t":86,"s":0.74},{"g":"0.61","t":89,"s":0.68},{"g":"0.61","t":92,"s":0.62},{"g":"0.61","t":95,"s":0.57},{"g":"0.61","t":97,"s":0.52},{"g":"0.61","t":99,"s":0.47},{"g":"0.61","t":101,"s":0.42},{"g":"0.61","t":103,"s":0.37},{"g":"0.61","t":105,"s":0.32},{"g":"0.61","t":108,"s":0.29},{"g":"0.61","t":113,"s":0.28},{"g":"0.61","t":118,"s":0.22},{"g":"0.61","t":125,"s":0.19},{"g":"0.61","t":130,"s":0.16},{"g":"0.61","t":136,"s":0.13},{"g":"0.61","t":140,"s":0.07},{"g":"0.61","t":142,"s":0.03},{"g":"0.61","t":145,"s":0.0},
{"g":"0.69","t":0,"s":1},{"g":"0.69","t":30,"s":0.99},{"g":"0.69","t":40,"s":0.97},{"g":"0.69","t":60,"s":0.96},{"g":"0.69","t":62,"s":0.95},{"g":"0.69","t":65,"s":0.94},{"g":"0.69","t":70,"s":0.91},{"g":"0.69","t":80,"s":0.87},{"g":"0.69","t":88,"s":0.83},{"g":"0.69","t":92,"s":0.78},{"g":"0.69","t":96,"s":0.73},{"g":"0.69","t":100,"s":0.7},{"g":"0.69","t":104,"s":0.67},{"g":"0.69","t":108,"s":0.62},{"g":"0.69","t":111,"s":0.58},{"g":"0.69","t":115,"s":0.55},{"g":"0.69","t":120,"s":0.49},{"g":"0.69","t":125,"s":0.46},{"g":"0.69","t":129,"s":0.44},{"g":"0.69","t":131,"s":0.35},{"g":"0.69","t":134,"s":0.22},{"g":"0.69","t":139,"s":0.14},{"g":"0.69","t":141,"s":0.06},{"g":"0.69","t":147,"s":0.0},
{"g":"1.45","t":0,"s":1},{"g":"1.45","t":8,"s":0.98},{"g":"1.45","t":15,"s":0.96},{"g":"1.45","t":30,"s":0.95},{"g":"1.45","t":60,"s":0.92},{"g":"1.45","t":66,"s":0.9},{"g":"1.45","t":72,"s":0.86},{"g":"1.45","t":78,"s":0.82},{"g":"1.45","t":82,"s":0.78},{"g":"1.45","t":85,"s":0.74},{"g":"1.45","t":88,"s":0.7},{"g":"1.45","t":92,"s":0.66},{"g":"1.45","t":96,"s":0.62},{"g":"1.45","t":100,"s":0.58},{"g":"1.45","t":104,"s":0.52},{"g":"1.45","t":107,"s":0.47},{"g":"1.45","t":110,"s":0.45},{"g":"1.45","t":114,"s":0.43},{"g":"1.45","t":118,"s":0.4},{"g":"1.45","t":123,"s":0.39},{"g":"1.45","t":129,"s":0.36},{"g":"1.45","t":131,"s":0.33},{"g":"1.45","t":134,"s":0.3},{"g":"1.45","t":137,"s":0.27},{"g":"1.45","t":142,"s":0.22},{"g":"1.45","t":144,"s":0.18},{"g":"1.45","t":150,"s":0.15},{"g":"1.45","t":155,"s":0.13},{"g":"1.45","t":166,"s":0.13},
{"g":"1.65","t":0,"s":1},{"g":"1.65","t":41,"s":0.98},{"g":"1.65","t":45,"s":0.97},{"g":"1.65","t":55,"s":0.93},{"g":"1.65","t":60,"s":0.9},{"g":"1.65","t":65,"s":0.87},{"g":"1.65","t":70,"s":0.84},{"g":"1.65","t":75,"s":0.8},{"g":"1.65","t":80,"s":0.76},{"g":"1.65","t":84,"s":0.7},{"g":"1.65","t":86,"s":0.65},{"g":"1.65","t":88,"s":0.6},{"g":"1.65","t":92,"s":0.56},{"g":"1.65","t":95,"s":0.52},{"g":"1.65","t":97,"s":0.47},{"g":"1.65","t":99,"s":0.42},{"g":"1.65","t":101,"s":0.36},{"g":"1.65","t":103,"s":0.3},{"g":"1.65","t":105,"s":0.26},{"g":"1.65","t":107,"s":0.22},{"g":"1.65","t":112,"s":0.2},{"g":"1.65","t":118,"s":0.18},{"g":"1.65","t":127,"s":0.12},{"g":"1.65","t":130,"s":0.1},{"g":"1.65","t":137,"s":0.08},{"g":"1.65","t":140,"s":0.06},{"g":"1.65","t":166,"s":0.06},
{"g":"3.01","t":0,"s":1},{"g":"3.01","t":5,"s":0.98},{"g":"3.01","t":15,"s":0.96},{"g":"3.01","t":25,"s":0.93},{"g":"3.01","t":40,"s":0.92},{"g":"3.01","t":55,"s":0.89},{"g":"3.01","t":60,"s":0.86},{"g":"3.01","t":64,"s":0.83},{"g":"3.01","t":70,"s":0.82},{"g":"3.01","t":76,"s":0.78},{"g":"3.01","t":82,"s":0.73},{"g":"3.01","t":85,"s":0.68},{"g":"3.01","t":87,"s":0.64},{"g":"3.01","t":89,"s":0.59},{"g":"3.01","t":93,"s":0.58},{"g":"3.01","t":96,"s":0.5},{"g":"3.01","t":98,"s":0.45},{"g":"3.01","t":100,"s":0.4},{"g":"3.01","t":102,"s":0.33},{"g":"3.01","t":104,"s":0.28},{"g":"3.01","t":107,"s":0.24},{"g":"3.01","t":111,"s":0.21},{"g":"3.01","t":115,"s":0.2},{"g":"3.01","t":119,"s":0.18},{"g":"3.01","t":126,"s":0.18},{"g":"3.01","t":128,"s":0.12},{"g":"3.01","t":130,"s":0.08},{"g":"3.01","t":166,"s":0.08}
],
"cs":[
{"g":"HIGH","t":0,"s":1},{"g":"HIGH","t":5.4,"s":0.98},{"g":"HIGH","t":12.4,"s":0.957},{"g":"HIGH","t":19.4,"s":0.934},{"g":"HIGH","t":29.2,"s":0.917},{"g":"HIGH","t":33.4,"s":0.91},{"g":"HIGH","t":57,"s":0.91},{"g":"HIGH","t":65.5,"s":0.9},{"g":"HIGH","t":71,"s":0.88},{"g":"HIGH","t":76.7,"s":0.865},{"g":"HIGH","t":80.9,"s":0.836},{"g":"HIGH","t":85,"s":0.807},{"g":"HIGH","t":87.8,"s":0.778},{"g":"HIGH","t":92,"s":0.76},{"g":"HIGH","t":95.5,"s":0.73},{"g":"HIGH","t":99,"s":0.69},{"g":"HIGH","t":101.8,"s":0.645},{"g":"HIGH","t":104.6,"s":0.587},{"g":"HIGH","t":107.4,"s":0.54},{"g":"HIGH","t":110,"s":0.494},{"g":"HIGH","t":113,"s":0.46},{"g":"HIGH","t":117,"s":0.425},{"g":"HIGH","t":121.4,"s":0.378},{"g":"HIGH","t":125.5,"s":0.367},{"g":"HIGH","t":128.4,"s":0.332},{"g":"HIGH","t":131,"s":0.263},{"g":"HIGH","t":133.9,"s":0.245},{"g":"HIGH","t":134.6,"s":0.147},{"g":"HIGH","t":136.7,"s":0.13},{"g":"HIGH","t":138.8,"s":0.1},{"g":"HIGH","t":143.7,"s":0.072},{"g":"HIGH","t":152,"s":0.066},{"g":"HIGH","t":162,"s":0.049},{"g":"HIGH","t":163.3,"s":0.025},{"g":"HIGH","t":166.8,"s":0.025},{"g":"HIGH","t":167,"s":0},
{"g":"LOW","t":0,"s":1},{"g":"LOW","t":15.2,"s":0.992},{"g":"LOW","t":26.4,"s":0.98},{"g":"LOW","t":37.6,"s":0.963},{"g":"LOW","t":45.9,"s":0.945},{"g":"LOW","t":51.5,"s":0.91},{"g":"LOW","t":57.1,"s":0.865},{"g":"LOW","t":61.3,"s":0.83},{"g":"LOW","t":65.5,"s":0.8},{"g":"LOW","t":69.7,"s":0.76},{"g":"LOW","t":72.5,"s":0.72},{"g":"LOW","t":76.7,"s":0.703},{"g":"LOW","t":79.5,"s":0.668},{"g":"LOW","t":82.3,"s":0.633},{"g":"LOW","t":85,"s":0.587},{"g":"LOW","t":87.2,"s":0.54},{"g":"LOW","t":90,"s":0.494},{"g":"LOW","t":92,"s":0.448},{"g":"LOW","t":94.1,"s":0.4},{"g":"LOW","t":96.2,"s":0.361},{"g":"LOW","t":99,"s":0.332},{"g":"LOW","t":100.4,"s":0.286},{"g":"LOW","t":102.5,"s":0.234},{"g":"LOW","t":104.6,"s":0.193},{"g":"LOW","t":107.4,"s":0.153},{"g":"LOW","t":111.6,"s":0.13},{"g":"LOW","t":117,"s":0.112},{"g":"LOW","t":127,"s":0.106},{"g":"LOW","t":128.4,"s":0.089},{"g":"LOW","t":132.5,"s":0.078},{"g":"LOW","t":134.6,"s":0.049},{"g":"LOW","t":136.7,"s":0.025},{"g":"LOW","t":136.9,"s":0},
{"g":"MED","t":0,"s":1},{"g":"MED","t":15.2,"s":0.994},{"g":"MED","t":25,"s":0.986},{"g":"MED","t":32,"s":0.969},{"g":"MED","t":45.9,"s":0.963},{"g":"MED","t":57.1,"s":0.951},{"g":"MED","t":62.7,"s":0.934},{"g":"MED","t":71,"s":0.928},{"g":"MED","t":79.5,"s":0.917},{"g":"MED","t":82.3,"s":0.9},{"g":"MED","t":85,"s":0.876},{"g":"MED","t":89.2,"s":0.87},{"g":"MED","t":93.4,"s":0.853},{"g":"MED","t":97.6,"s":0.818},{"g":"MED","t":100.4,"s":0.789},{"g":"MED","t":103.2,"s":0.76},{"g":"MED","t":106,"s":0.703},{"g":"MED","t":108.8,"s":0.656},{"g":"MED","t":111.6,"s":0.61},{"g":"MED","t":114.4,"s":0.552},{"g":"MED","t":117.2,"s":0.517},{"g":"MED","t":121.4,"s":0.483},{"g":"MED","t":125.6,"s":0.436},{"g":"MED","t":129.2,"s":0.4},{"g":"MED","t":131.3,"s":0.332},{"g":"MED","t":134.1,"s":0.257},{"g":"MED","t":135.5,"s":0.193},{"g":"MED","t":137.6,"s":0.112},{"g":"MED","t":141.1,"s":0.095},{"g":"MED","t":148.1,"s":0.06},{"g":"MED","t":153.7,"s":0.037},{"g":"MED","t":155.1,"s":0.025},{"g":"MED","t":164.2,"s":0.025},{"g":"MED","t":164.4,"s":0}
],
"d":[
{"x":0.07,"fr":0.68,"lr":0.43,"ur":0.96,"fg":0.58,"lg":0.35,"ug":0.88},
{"x":0.12,"fr":0.80,"lr":0.52,"ur":1.13,"fg":0.68,"lg":0.40,"ug":1.03},
{"x":0.25,"fr":1.00,"lr":0.70,"ur":1.19,"fg":0.86,"lg":0.58,"ug":1.12},
{"x":0.40,"fr":1.11,"lr":0.86,"ur":1.33,"fg":0.96,"lg":0.73,"ug":1.24},
{"x":0.50,"fr":1.09,"lr":0.88,"ur":1.32,"fg":0.94,"lg":0.75,"ug":1.20},
{"x":0.60,"fr":1.03,"lr":0.84,"ur":1.23,"fg":0.89,"lg":0.71,"ug":1.10},
{"x":0.70,"fr":0.97,"lr":0.79,"ur":1.16,"fg":0.84,"lg":0.67,"ug":1.04},
{"x":0.90,"fr":0.90,"lr":0.73,"ur":1.09,"fg":0.78,"lg":0.61,"ug":0.98},
{"x":1.10,"fr":0.89,"lr":0.72,"ur":1.08,"fg":0.77,"lg":0.59,"ug":0.97},
{"x":1.40,"fr":0.94,"lr":0.77,"ur":1.12,"fg":0.81,"lg":0.64,"ug":1.02},
{"x":1.70,"fr":1.01,"lr":0.82,"ur":1.21,"fg":0.87,"lg":0.68,"ug":1.11},
{"x":2.00,"fr":1.08,"lr":0.87,"ur":1.31,"fg":0.93,"lg":0.71,"ug":1.23},
{"x":2.30,"fr":1.14,"lr":0.89,"ur":1.38,"fg":0.98,"lg":0.72,"ug":1.30},
{"x":2.60,"fr":1.18,"lr":0.90,"ur":1.44,"fg":1.01,"lg":0.73,"ug":1.35},
{"x":3.00,"fr":1.21,"lr":0.90,"ur":1.52,"fg":1.04,"lg":0.73,"ug":1.39}
],
"e":[
{"x":16.9,"fr":2.31,"lr":1.10,"ur":3.49,"fg":1.99,"lg":0.89,"ug":3.08},
{"x":19.3,"fr":2.31,"lr":1.35,"ur":3.33,"fg":1.99,"lg":1.15,"ug":2.98},
{"x":21.4,"fr":2.25,"lr":1.45,"ur":3.19,"fg":1.95,"lg":1.30,"ug":2.89},
{"x":24.5,"fr":2.04,"lr":1.48,"ur":2.85,"fg":1.73,"lg":1.37,"ug":2.58},
{"x":27.7,"fr":1.73,"lr":1.36,"ur":2.40,"fg":1.40,"lg":1.24,"ug":2.16},
{"x":30.8,"fr":1.40,"lr":1.12,"ur":1.85,"fg":1.13,"lg":0.99,"ug":1.67},
{"x":34.0,"fr":1.13,"lr":0.89,"ur":1.31,"fg":0.945,"lg":0.77,"ug":1.19},
{"x":37.1,"fr":0.99,"lr":0.80,"ur":1.16,"fg":0.855,"lg":0.69,"ug":1.04},
{"x":41.3,"fr":0.96,"lr":0.73,"ur":1.13,"fg":0.82,"lg":0.63,"ug":1.0},
{"x":45.5,"fr":0.93,"lr":0.67,"ur":1.11,"fg":0.79,"lg":0.58,"ug":1.0},
{"x":49.7,"fr":0.87,"lr":0.61,"ur":1.09,"fg":0.73,"lg":0.51,"ug":0.97},
{"x":53.9,"fr":0.81,"lr":0.54,"ur":1.07,"fg":0.69,"lg":0.45,"ug":0.95},
{"x":57.1,"fr":0.81,"lr":0.48,"ur":1.13,"fg":0.69,"lg":0.41,"ug":0.98},
{"x":60.2,"fr":0.915,"lr":0.41,"ur":1.43,"fg":0.76,"lg":0.36,"ug":1.25},
{"x":63.4,"fr":1.07,"lr":0.30,"ur":1.85,"fg":0.90,"lg":0.24,"ug":1.73},
{"x":65.2,"fr":1.17,"lr":0.22,"ur":2.07,"fg":1.0,"lg":0.17,"ug":1.95}
],
"f":[
{"x":0.07,"fr":0.61,"lr":0.38,"ur":0.87,"fg":0.625,"lg":0.39,"ug":0.88},
{"x":0.13,"fr":0.67,"lr":0.38,"ur":0.91,"fg":0.685,"lg":0.39,"ug":0.92},
{"x":0.25,"fr":0.84,"lr":0.56,"ur":1.11,"fg":0.85,"lg":0.57,"ug":1.12},
{"x":0.37,"fr":1.02,"lr":0.79,"ur":1.31,"fg":1.03,"lg":0.80,"ug":1.32},
{"x":0.50,"fr":1.13,"lr":0.94,"ur":1.34,"fg":1.14,"lg":0.95,"ug":1.35},
{"x":0.63,"fr":1.11,"lr":0.93,"ur":1.29,"fg":1.12,"lg":0.94,"ug":1.30},
{"x":0.82,"fr":1.04,"lr":0.82,"ur":1.20,"fg":1.05,"lg":0.83,"ug":1.21},
{"x":1.08,"fr":0.97,"lr":0.755,"ur":1.17,"fg":0.98,"lg":0.76,"ug":1.18},
{"x":1.33,"fr":0.98,"lr":0.77,"ur":1.20,"fg":0.99,"lg":0.78,"ug":1.21},
{"x":1.59,"fr":1.05,"lr":0.82,"ur":1.275,"fg":1.06,"lg":0.83,"ug":1.29},
{"x":1.91,"fr":1.19,"lr":0.91,"ur":1.43,"fg":1.20,"lg":0.92,"ug":1.45},
{"x":2.23,"fr":1.33,"lr":1.02,"ur":1.59,"fg":1.34,"lg":1.03,"ug":1.61},
{"x":2.55,"fr":1.46,"lr":1.12,"ur":1.76,"fg":1.47,"lg":1.13,"ug":1.78},
{"x":3.01,"fr":1.63,"lr":1.29,"ur":1.97,"fg":1.66,"lg":1.30,"ug":2.0}
],
"g":[
{"x":2.26,"fr":0.84,"lr":0.44,"ur":1.31,"fg":0.865,"lg":0.45,"ug":1.33},
{"x":3.0,"fr":0.82,"lr":0.61,"ur":1.075,"fg":0.847,"lg":0.62,"ug":1.09},
{"x":4.0,"fr":0.80,"lr":0.67,"ur":1.0,"fg":0.83,"lg":0.68,"ug":1.01},
{"x":4.7,"fr":0.85,"lr":0.70,"ur":1.09,"fg":0.88,"lg":0.71,"ug":1.10},
{"x":5.49,"fr":1.09,"lr":0.91,"ur":1.39,"fg":1.12,"lg":0.92,"ug":1.40},
{"x":6.19,"fr":1.30,"lr":1.12,"ur":1.6,"fg":1.33,"lg":1.13,"ug":1.61},
{"x":6.89,"fr":1.42,"lr":1.21,"ur":1.675,"fg":1.45,"lg":1.22,"ug":1.69},
{"x":7.48,"fr":1.37,"lr":1.16,"ur":1.63,"fg":1.40,"lg":1.17,"ug":1.64},
{"x":8.28,"fr":1.18,"lr":0.97,"ur":1.48,"fg":1.21,"lg":0.98,"ug":1.49},
{"x":8.87,"fr":1.09,"lr":0.85,"ur":1.45,"fg":1.12,"lg":0.86,"ug":1.46},
{"x":9.47,"fr":1.07,"lr":0.775,"ur":1.57,"fg":1.10,"lg":0.78,"ug":1.58},
{"x":10.27,"fr":1.18,"lr":0.67,"ur":1.87,"fg":1.21,"lg":0.68,"ug":1.88},
{"x":10.87,"fr":1.33,"lr":0.52,"ur":2.23,"fg":1.36,"lg":0.53,"ug":2.24},
{"x":11.44,"fr":1.46,"lr":0.28,"ur":2.68,"fg":1.49,"lg":0.29,"ug":2.70}
],
"rd":[{"x":0.07},{"x":0.1},{"x":0.25},{"x":0.48},{"x":0.61},{"x":0.69},{"x":1.45},{"x":1.65},{"x":3.01}],
"re":[{"x":16.9},{"x":22.0},{"x":22.6},{"x":23.0},{"x":23.5},{"x":23.9},{"x":24.2},{"x":24.5},{"x":24.8},{"x":25.1},{"x":25.3},{"x":26.5},{"x":26.8},{"x":27.1},{"x":27.3},{"x":27.6},{"x":27.9},{"x":28.1},{"x":28.4},{"x":28.6},{"x":28.9},{"x":29.2},{"x":29.4},{"x":29.7},{"x":30.0},{"x":30.2},{"x":30.5},{"x":30.8},{"x":31.0},{"x":31.3},{"x":31.6},{"x":31.9},{"x":32.1},{"x":32.4},{"x":32.7},{"x":33.0},{"x":33.3},{"x":33.5},{"x":33.8},{"x":34.1},{"x":34.4},{"x":34.7},{"x":35.0},{"x":35.3},{"x":35.6},{"x":35.9},{"x":36.2},{"x":36.5},{"x":36.9},{"x":37.2},{"x":37.6},{"x":38.0},{"x":38.3},{"x":38.7},{"x":39.1},{"x":39.4},{"x":39.8},{"x":40.1},{"x":40.5},{"x":40.8},{"x":41.2},{"x":41.5},{"x":41.9},{"x":42.2},{"x":42.6},{"x":43.0},{"x":43.3},{"x":43.7},{"x":44.1},{"x":44.6},{"x":45.0},{"x":45.5},{"x":46.0},{"x":46.4},{"x":46.9},{"x":47.4},{"x":47.8},{"x":48.3},{"x":48.8},{"x":49.3},{"x":49.8},{"x":50.0},{"x":53.6},{"x":54.2},{"x":55.0},{"x":55.5},{"x":56.0},{"x":56.6},{"x":57.1},{"x":58.2},{"x":58.7},{"x":59.3},{"x":60.0},{"x":60.8},{"x":64.7},{"x":65.2}],
"rg":[{"x":2.29},{"x":2.35},{"x":2.42},{"x":2.5},{"x":2.62},{"x":2.7},{"x":2.85},{"x":2.95},{"x":3.05},{"x":3.15},{"x":3.3},{"x":3.42},{"x":3.5},{"x":3.6},{"x":3.68},{"x":3.75},{"x":3.82},{"x":3.9},{"x":3.98},{"x":4.05},{"x":4.12},{"x":4.2},{"x":4.28},{"x":4.35},{"x":4.42},{"x":4.5},{"x":4.58},{"x":4.65},{"x":4.72},{"x":4.8},{"x":4.88},{"x":4.95},{"x":5.02},{"x":5.1},{"x":5.18},{"x":5.25},{"x":5.33},{"x":5.4},{"x":5.48},{"x":5.55},{"x":5.63},{"x":5.7},{"x":5.78},{"x":5.85},{"x":5.92},{"x":6.0},{"x":6.08},{"x":6.15},{"x":6.25},{"x":6.35},{"x":6.45},{"x":6.55},{"x":6.62},{"x":6.7},{"x":6.78},{"x":6.85},{"x":6.92},{"x":7.0},{"x":7.08},{"x":7.15},{"x":7.22},{"x":7.3},{"x":7.38},{"x":7.45},{"x":7.55},{"x":7.65},{"x":7.75},{"x":7.95},{"x":8.1},{"x":8.2},{"x":8.55},{"x":8.65},{"x":8.75},{"x":8.95},{"x":9.05},{"x":9.25},{"x":9.6},{"x":9.7},{"x":9.85},{"x":10.71},{"x":11.44}]
},
"vconcat":[
{"spacing":0,"bounds":"flush","hconcat":[
{"width":73,"height":342,"data":{"values":[]},"mark":"point"},
{
"width":294,"height":232,
"title":{"text":"A","anchor":"start","frame":"group","dx":-65,"dy":8,"offset":0,"fontSize":21,"fontWeight":"bold","baseline":"alphabetic"},
"encoding":{
"x":{"field":"x","type":"quantitative","scale":{"domain":[0,25],"nice":false,"zero":false},"axis":{"values":[0,5,10,15,20,25],"title":["P intake, kJ/mouse/day","(F intake: 12)"],"labelFontSize":14,"titleFontSize":14,"tickSize":7,"offset":3,"labelPadding":11,"titlePadding":19,"titleLineHeight":18}},
"y":{"field":"y","type":"quantitative","scale":{"domain":[5,35],"nice":false,"zero":false},"axis":{"values":[5,10,15,20,25,30,35],"title":"C intake, kJ/mouse/day","labelAngle":-90,"labelAlign":"center","labelBaseline":"bottom","labelFontSize":14,"titleFontSize":14,"tickSize":9,"offset":1,"labelPadding":10,"titlePadding":17}}
},
"layer":[
{"data":{"name":"a1"},"mark":{"type":"rect","strokeWidth":0.6},"encoding":{"x2":{"field":"x2"},"y2":{"field":"y2"},
"fill":{"field":"v","type":"quantitative","scale":{"domain":[104.5,105,106,107,108,109,110,111,112,113,114,115,116],"range":["#2800ff","#3a2cf4","#4a5cf0","#6a90f0","#88c4f4","#98ecf4","#a4f4c4","#ccf278","#f4f04c","#f2c43c","#e48c2c","#cc4c1c","#b02010"]},"legend":null},
"stroke":{"field":"v","type":"quantitative","scale":{"domain":[104.5,105,106,107,108,109,110,111,112,113,114,115,116],"range":["#2800ff","#3a2cf4","#4a5cf0","#6a90f0","#88c4f4","#98ecf4","#a4f4c4","#ccf278","#f4f04c","#f2c43c","#e48c2c","#cc4c1c","#b02010"]},"legend":null}}},
{"data":{"name":"a1c"},"mark":{"type":"line","color":"#1a1a1a","strokeWidth":1.4,"interpolate":"catmull-rom"},"encoding":{"detail":{"field":"k","type":"nominal"},"order":{"value":null}}},
{"data":{"name":"a1l"},"mark":{"type":"text","fontSize":13,"color":"#111"},"encoding":{"text":{"field":"t","type":"nominal"}}}
]
},
{"width":115,"height":1,"data":{"values":[]},"mark":"point"},
{
"width":294,"height":232,
"title":{"text":"Intake based, median lifespan","anchor":"middle","frame":"group","dx":-37,"dy":19.5,"offset":0,"fontSize":31,"fontWeight":"normal","baseline":"alphabetic"},
"encoding":{
"x":{"field":"x","type":"quantitative","scale":{"domain":[0,25],"nice":false,"zero":false},"axis":{"values":[0,5,10,15,20,25],"title":["P intake, kJ/mouse/day","(C intake: 14)"],"labelFontSize":14,"titleFontSize":14,"tickSize":7,"offset":3,"labelPadding":11,"titlePadding":19,"titleLineHeight":18}},
"y":{"field":"y","type":"quantitative","scale":{"domain":[5,40],"nice":false,"zero":false},"axis":{"values":[5,10,15,20,25,30,35,40],"title":"F intake, kJ/mouse/day","labelAngle":-90,"labelAlign":"center","labelBaseline":"bottom","labelFontSize":14,"titleFontSize":14,"tickSize":9,"offset":1,"labelPadding":10,"titlePadding":17}}
},
"layer":[
{"data":{"name":"a2"},"mark":{"type":"rect","strokeWidth":0.6},"encoding":{"x2":{"field":"x2"},"y2":{"field":"y2"},
"fill":{"field":"v","type":"quantitative","scale":{"domain":[104.5,105,106,107,108,109,110,111,112,113,114,115,116],"range":["#2800ff","#3a2cf4","#4a5cf0","#6a90f0","#88c4f4","#98ecf4","#a4f4c4","#ccf278","#f4f04c","#f2c43c","#e48c2c","#cc4c1c","#b02010"]},"legend":null},
"stroke":{"field":"v","type":"quantitative","scale":{"domain":[104.5,105,106,107,108,109,110,111,112,113,114,115,116],"range":["#2800ff","#3a2cf4","#4a5cf0","#6a90f0","#88c4f4","#98ecf4","#a4f4c4","#ccf278","#f4f04c","#f2c43c","#e48c2c","#cc4c1c","#b02010"]},"legend":null}}},
{"data":{"name":"a2c"},"mark":{"type":"line","color":"#1a1a1a","strokeWidth":1.4,"interpolate":"catmull-rom"},"encoding":{"detail":{"field":"k","type":"nominal"},"order":{"value":null}}},
{"data":{"name":"a2l"},"mark":{"type":"text","fontSize":13,"color":"#111","angle":-55},"encoding":{"text":{"field":"t","type":"nominal"}}}
]
},
{"width":114,"height":1,"data":{"values":[]},"mark":"point"},
{
"width":293,"height":232,
"encoding":{
"x":{"field":"x","type":"quantitative","scale":{"domain":[5,35],"nice":false,"zero":false},"axis":{"values":[5,10,15,20,25,30,35],"title":["C intake, kJ/mouse/day","(P intake: 10)"],"labelFontSize":14,"titleFontSize":14,"tickSize":7,"offset":3,"labelPadding":11,"titlePadding":19,"titleLineHeight":18}},
"y":{"field":"y","type":"quantitative","scale":{"domain":[5,40],"nice":false,"zero":false},"axis":{"values":[5,10,15,20,25,30,35,40],"title":"F intake, kJ/mouse/day","labelAngle":-90,"labelAlign":"center","labelBaseline":"bottom","labelFontSize":14,"titleFontSize":14,"tickSize":9,"offset":1,"labelPadding":10,"titlePadding":17}}
},
"layer":[
{"data":{"name":"a3"},"mark":{"type":"rect","strokeWidth":0.6},"encoding":{"x2":{"field":"x2"},"y2":{"field":"y2"},
"fill":{"field":"v","type":"quantitative","scale":{"domain":[104.5,105,106,107,108,109,110,111,112,113,114,115,116],"range":["#2800ff","#3a2cf4","#4a5cf0","#6a90f0","#88c4f4","#98ecf4","#a4f4c4","#ccf278","#f4f04c","#f2c43c","#e48c2c","#cc4c1c","#b02010"]},"legend":null},
"stroke":{"field":"v","type":"quantitative","scale":{"domain":[104.5,105,106,107,108,109,110,111,112,113,114,115,116],"range":["#2800ff","#3a2cf4","#4a5cf0","#6a90f0","#88c4f4","#98ecf4","#a4f4c4","#ccf278","#f4f04c","#f2c43c","#e48c2c","#cc4c1c","#b02010"]},"legend":null}}},
{"data":{"name":"a3c"},"mark":{"type":"line","color":"#1a1a1a","strokeWidth":1.4,"interpolate":"catmull-rom"},"encoding":{"detail":{"field":"k","type":"nominal"},"order":{"value":null}}},
{"data":{"name":"a3l"},"transform":[{"filter":{"field":"t","oneOf":["105"]}}],"mark":{"type":"text","fontSize":13,"color":"#111","angle":-62},"encoding":{"text":{"field":"t","type":"nominal"}}},
{"data":{"name":"a3l"},"transform":[{"filter":{"field":"t","oneOf":["106","107"]}}],"mark":{"type":"text","fontSize":13,"color":"#111","angle":-85},"encoding":{"text":{"field":"t","type":"nominal"}}},
{"data":{"name":"a3l"},"transform":[{"filter":{"field":"t","oneOf":["109","111"]}}],"mark":{"type":"text","fontSize":13,"color":"#111","angle":90},"encoding":{"text":{"field":"t","type":"nominal"}}},
{"data":{"name":"a3l"},"transform":[{"filter":{"field":"t","oneOf":["113","114"]}}],"mark":{"type":"text","fontSize":13,"color":"#111","angle":75},"encoding":{"text":{"field":"t","type":"nominal"}}}
]
}
]},
{"spacing":0,"bounds":"flush","resolve":{"scale":{"stroke":"independent"},"legend":{"stroke":"independent"}},"hconcat":[
{"width":144,"height":391,"data":{"values":[]},"mark":"point"},
{
"width":414,"height":312,
"view":{"stroke":"#222","strokeWidth":1.5},
"title":{"text":"B","anchor":"start","frame":"group","dx":-76,"dy":23,"offset":0,"fontSize":18,"fontWeight":"bold","baseline":"alphabetic"},
"data":{"name":"bs"},
"mark":{"type":"line","interpolate":"step-after","strokeWidth":1.6},
"encoding":{
"x":{"field":"t","type":"quantitative","scale":{"domain":[0,150],"range":[1,358],"nice":false,"zero":false},"axis":{"values":[0,50,100,150],"title":"Time, weeks","labelFontSize":15,"titleFontSize":15,"tickSize":8,"labelPadding":10,"titlePadding":17}},
"y":{"field":"s","type":"quantitative","scale":{"domain":[0,1],"range":[301,13],"nice":false,"zero":false},"axis":{"values":[0,0.2,0.4,0.6,0.8,1],"format":".1f","title":"Survival","labelAngle":-90,"labelAlign":"center","labelBaseline":"bottom","labelFontSize":14,"titleFontSize":14,"tickSize":8,"labelPadding":11,"titlePadding":31}},
"stroke":{"field":"g","type":"nominal","scale":{"domain":["0.07","0.1","0.25","0.48","0.61","0.69","1.45","1.65","3.01"],"range":["#cc4444","#dda050","#c4f060","#70e040","#90f0c0","#70a8f0","#4c4cd8","#9c40e0","#cc3399"]},
"legend":{"orient":"none","legendX":12,"legendY":157,"title":null,"symbolType":"M-2.5,0H2.5","symbolSize":100,"symbolStrokeWidth":1.5,"labelFontSize":10,"strokeColor":"#000","fillColor":"#fff","padding":6,"rowPadding":1,"symbolOffset":8,"labelOffset":20}}
}
},
{"width":129,"height":1,"data":{"values":[]},"mark":"point"},
{
"width":412,"height":312,
"view":{"stroke":"#222","strokeWidth":1.5},
"title":{"text":"C","anchor":"start","frame":"group","dx":-72,"dy":23,"offset":0,"fontSize":18,"fontWeight":"bold","baseline":"alphabetic"},
"data":{"name":"cs"},
"mark":{"type":"line","strokeWidth":1.6},
"encoding":{
"x":{"field":"t","type":"quantitative","scale":{"domain":[0,150],"range":[0,358],"nice":false,"zero":false},"axis":{"values":[0,50,100,150],"title":"Time, weeks","labelFontSize":15,"titleFontSize":15,"tickSize":8,"labelPadding":10,"titlePadding":17}},
"y":{"field":"s","type":"quantitative","scale":{"domain":[0,1],"range":[301,13],"nice":false,"zero":false},"axis":{"values":[0,0.2,0.4,0.6,0.8,1],"format":".1f","title":"Survival","labelAngle":-90,"labelAlign":"center","labelBaseline":"bottom","labelFontSize":14,"titleFontSize":14,"tickSize":8,"labelPadding":11,"titlePadding":31}},
"stroke":{"field":"g","type":"nominal","scale":{"domain":["HIGH","LOW","MED"],"range":["#d03a3a","#6cc84a","#3030e6"]},
"legend":{"orient":"none","legendX":10,"legendY":242,"title":null,"symbolType":"M-2.5,0H2.5","symbolSize":100,"symbolStrokeWidth":1.5,"labelFontSize":10,"strokeColor":"#000","fillColor":"#fff","padding":6,"rowPadding":1,"symbolOffset":8,"labelOffset":20}}
}
}
]},
{"spacing":0,"bounds":"flush","hconcat":[
{"width":232,"height":357,"data":{"values":[]},"mark":"point"},
{
"width":331,"height":239,
"view":{"stroke":"#333","strokeWidth":1.2},
"title":{"text":"D","anchor":"start","frame":"group","dx":-109,"dy":39,"offset":0,"fontSize":18,"fontWeight":"bold","baseline":"alphabetic"},
"encoding":{"x":{"field":"x","type":"quantitative","scale":{"domain":[0,3],"range":[6,319],"nice":false,"zero":false},"axis":{"values":[0,0.5,1,1.5,2,2.5,3],"format":".1f","title":"Diet P:C (Intake P:C)","labelFontSize":22,"titleFontSize":21,"tickSize":11,"offset":2,"labelPadding":20,"titlePadding":24}}},
"layer":[
{"data":{"name":"d"},"mark":{"type":"area","color":"#8ac67a","opacity":0.3,"interpolate":"monotone"},"encoding":{"y":{"field":"ug","type":"quantitative","title":"Risk score","scale":{"domain":[0,2],"range":[229,9],"nice":false,"zero":false},"axis":{"values":[0,0.5,1,1.5,2],"format":".1f","labelAngle":-90,"labelAlign":"center","labelBaseline":"bottom","labelFontSize":22,"titleFontSize":22,"tickSize":11,"offset":2,"labelPadding":14,"titlePadding":30}},"y2":{"field":"lg"}}},
{"data":{"name":"d"},"mark":{"type":"area","color":"#d19173","opacity":0.5,"interpolate":"monotone"},"encoding":{"y":{"field":"ur","type":"quantitative","title":"Risk score"},"y2":{"field":"lr"}}},
{"data":{"name":"d"},"mark":{"type":"line","color":"#cc2222","strokeWidth":4,"interpolate":"monotone"},"encoding":{"y":{"field":"fr","type":"quantitative","title":"Risk score"}}},
{"data":{"name":"d"},"mark":{"type":"line","color":"#4fa83c","strokeWidth":3.5,"interpolate":"monotone"},"encoding":{"y":{"field":"fg","type":"quantitative","title":"Risk score"}}},
{"data":{"name":"rd"},"mark":{"type":"rule","color":"#111","strokeWidth":1.3},"encoding":{"y":{"datum":-0.09,"type":"quantitative"},"y2":{"datum":-0.02}}}
]
},
{"width":173,"height":1,"data":{"values":[]},"mark":"point"},
{
"width":331,"height":239,
"view":{"stroke":"#333","strokeWidth":1.2},
"title":{"text":"E","anchor":"start","frame":"group","dx":-119,"dy":33,"offset":0,"fontSize":18,"fontWeight":"bold","baseline":"alphabetic"},
"encoding":{"x":{"field":"x","type":"quantitative","scale":{"domain":[20,60],"range":[32,286],"nice":false,"zero":false},"axis":{"values":[20,30,40,50,60],"title":"E intake, kJ/mouse/day","labelFontSize":22,"titleFontSize":21,"tickSize":11,"offset":2,"labelPadding":20,"titlePadding":24}}},
"layer":[
{"data":{"name":"e"},"mark":{"type":"area","color":"#8ac67a","opacity":0.3,"interpolate":"monotone"},"encoding":{"y":{"field":"ug","type":"quantitative","title":"Risk score","scale":{"domain":[0,4],"range":[229,9],"nice":false,"zero":false},"axis":{"values":[0,1,2,3,4],"format":"d","labelAngle":-90,"labelAlign":"center","labelBaseline":"bottom","labelFontSize":22,"titleFontSize":22,"tickSize":11,"offset":2,"labelPadding":14,"titlePadding":30}},"y2":{"field":"lg"}}},
{"data":{"name":"e"},"mark":{"type":"area","color":"#d19173","opacity":0.5,"interpolate":"monotone"},"encoding":{"y":{"field":"ur","type":"quantitative","title":"Risk score"},"y2":{"field":"lr"}}},
{"data":{"name":"e"},"mark":{"type":"line","color":"#cc2222","strokeWidth":4,"interpolate":"monotone"},"encoding":{"y":{"field":"fr","type":"quantitative","title":"Risk score"}}},
{"data":{"name":"e"},"mark":{"type":"line","color":"#4fa83c","strokeWidth":3.5,"interpolate":"monotone"},"encoding":{"y":{"field":"fg","type":"quantitative","title":"Risk score"}}},
{"data":{"name":"re"},"mark":{"type":"rule","color":"#111","strokeWidth":1.4},"encoding":{"y":{"datum":-0.18,"type":"quantitative"},"y2":{"datum":-0.04}}}
]
}
]},
{"spacing":0,"bounds":"flush","hconcat":[
{"width":226,"height":240,"data":{"values":[]},"mark":"point"},
{
"width":331,"height":240,
"view":{"stroke":"#333","strokeWidth":1.2},
"title":{"text":"F","anchor":"start","frame":"group","dx":-104,"dy":30,"offset":0,"fontSize":18,"fontWeight":"bold","baseline":"alphabetic"},
"encoding":{"x":{"field":"x","type":"quantitative","scale":{"domain":[0,3],"range":[5,318],"nice":false,"zero":false},"axis":{"values":[0,0.5,1,1.5,2,2.5,3],"format":".1f","title":"Diet P:C (Intake P:C)","labelFontSize":22,"titleFontSize":21,"tickSize":11,"offset":2,"labelPadding":20,"titlePadding":24}}},
"layer":[
{"data":{"name":"f"},"mark":{"type":"area","color":"#8ac67a","opacity":0.3,"interpolate":"monotone"},"encoding":{"y":{"field":"ug","type":"quantitative","title":"Risk score","scale":{"domain":[0,2],"range":[231,11],"nice":false,"zero":false},"axis":{"values":[0,0.5,1,1.5,2],"format":".1f","labelAngle":-90,"labelAlign":"center","labelBaseline":"bottom","labelFontSize":22,"titleFontSize":22,"tickSize":11,"offset":2,"labelPadding":14,"titlePadding":30}},"y2":{"field":"lg"}}},
{"data":{"name":"f"},"mark":{"type":"area","color":"#d19173","opacity":0.5,"interpolate":"monotone"},"encoding":{"y":{"field":"ur","type":"quantitative","title":"Risk score"},"y2":{"field":"lr"}}},
{"data":{"name":"f"},"mark":{"type":"line","color":"#cc2222","strokeWidth":3,"interpolate":"monotone"},"encoding":{"y":{"field":"fr","type":"quantitative","title":"Risk score"}}},
{"data":{"name":"f"},"mark":{"type":"line","color":"#4fa83c","strokeWidth":3.5,"interpolate":"monotone"},"encoding":{"y":{"field":"fg","type":"quantitative","title":"Risk score"}}},
{"data":{"name":"rd"},"mark":{"type":"rule","color":"#111","strokeWidth":1.3},"encoding":{"y":{"datum":-0.08,"type":"quantitative"},"y2":{"datum":-0.01}}}
]
},
{"width":172,"height":1,"data":{"values":[]},"mark":"point"},
{
"width":333,"height":240,
"view":{"stroke":"#333","strokeWidth":1.2},
"title":{"text":"G","anchor":"start","frame":"group","dx":-106,"dy":27,"offset":0,"fontSize":18,"fontWeight":"bold","baseline":"alphabetic"},
"encoding":{"x":{"field":"x","type":"quantitative","scale":{"domain":[2,10],"range":[4,272],"nice":false,"zero":false},"axis":{"values":[2,4,6,8,10],"title":"E intake, kJ/g lean mass/day","labelFontSize":22,"titleFontSize":21,"tickSize":11,"offset":2,"labelPadding":20,"titlePadding":24}}},
"layer":[
{"data":{"name":"g"},"mark":{"type":"area","color":"#8ac67a","opacity":0.3,"interpolate":"monotone"},"encoding":{"y":{"field":"ug","type":"quantitative","title":"Risk score","scale":{"domain":[0,4],"range":[231,9],"nice":false,"zero":false},"axis":{"values":[0,1,2,3,4],"format":"d","labelAngle":-90,"labelAlign":"center","labelBaseline":"bottom","labelFontSize":22,"titleFontSize":22,"tickSize":11,"offset":2,"labelPadding":14,"titlePadding":30}},"y2":{"field":"lg"}}},
{"data":{"name":"g"},"mark":{"type":"area","color":"#d19173","opacity":0.5,"interpolate":"monotone"},"encoding":{"y":{"field":"ur","type":"quantitative","title":"Risk score"},"y2":{"field":"lr"}}},
{"data":{"name":"g"},"mark":{"type":"line","color":"#cc2222","strokeWidth":3,"interpolate":"monotone"},"encoding":{"y":{"field":"fr","type":"quantitative","title":"Risk score"}}},
{"data":{"name":"g"},"mark":{"type":"line","color":"#4fa83c","strokeWidth":3.5,"interpolate":"monotone"},"encoding":{"y":{"field":"fg","type":"quantitative","title":"Risk score"}}},
{"data":{"name":"rg"},"mark":{"type":"rule","color":"#111","strokeWidth":1.4},"encoding":{"y":{"datum":-0.16,"type":"quantitative"},"y2":{"datum":-0.02}}}
]
}
]}
]
}
